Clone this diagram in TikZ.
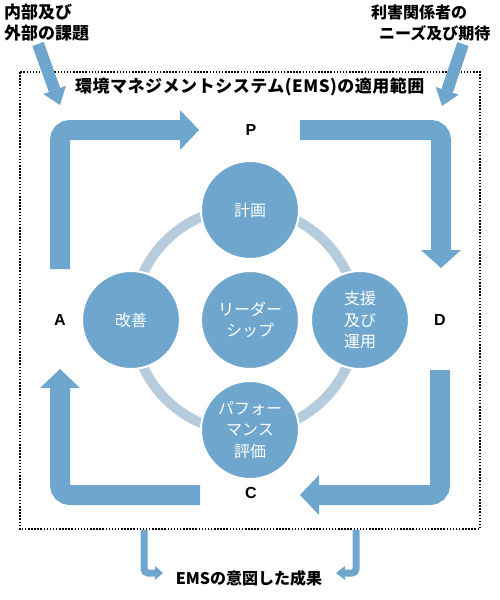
\documentclass[tikz,border=0pt]{standalone}
\usepackage{fontspec}
\setmainfont{Noto Sans CJK JP}
\newfontfamily\latf{Liberation Sans}
\usetikzlibrary{calc}
\definecolor{cb}{HTML}{6FA6CD}
\definecolor{ringc}{HTML}{B6CBDC}
\begin{document}
\begin{tikzpicture}[x=1pt,y=-1pt,
  bub/.style={circle, fill=cb, draw=white, line width=2pt, minimum size=98pt, inner sep=0pt,
     text=white, align=center, font=\fontsize{16}{21.5}\selectfont},
  cyc/.style={draw=cb, line width=20pt},
  head/.style={fill=cb},
  thin/.style={draw=cb, line width=7pt},
  lab/.style={font=\bfseries\fontsize{16}{21}\selectfont, inner sep=0pt},
  pdca/.style={font=\latf\bfseries\fontsize{16}{19}\selectfont, inner sep=0pt},
  box/.style={draw=black, line width=1.5pt, dash pattern=on 1.5pt off 1.6pt}
]
\useasboundingbox (0,0) rectangle (500,600);

% scope box
\draw[box] (20,72) rectangle (480,529);
\node[lab, anchor=west, font=\bfseries\fontsize{17}{21}\selectfont\addfontfeature{LetterSpace=3}] (title) at (75,87) {環境マネジメントシステム(EMS)の適用範囲};

% outside labels
\node[lab, anchor=north west, align=left, font=\bfseries\fontsize{17}{21}\selectfont] (inl) at (4,4) {内部及び\\外部の課題};
\node[lab, anchor=north west, align=left] (outl) at (371,5) {利害関係者の\\\hspace*{8pt}ニーズ及び期待};
\node[lab, anchor=center] (res) at (249,578) {EMSの意図した成果};

% ring and circles
\draw[ringc, line width=10pt] (245,320) circle[radius=112];
\node[bub] (plan) at (250,210) {計画};
\node[bub] (supp) at (360,320) {支援\\及び\\運用};
\node[bub] (eval) at (250,430) {パフォー\\マンス\\評価};
\node[bub] (impr) at (131,320) {改善};
\node[bub] (lead) at (250,320) {リーダー\\シップ};

% PDCA letters
\node[pdca] (P) at (251,130) {P};
\node[pdca] (D) at (440,320) {D};
\node[pdca] (C) at (251,493) {C};
\node[pdca] (A) at (60,320) {A};

% cycle arrows
\coordinate (tl1) at (60,269); \coordinate (tl2) at (60,130); \coordinate (tl3) at (181,130);
\draw[cyc] (tl1) [rounded corners=10pt] -- (tl2) -- (tl3);
\fill[head] (180,110) -- (199,130) -- (180,150) -- cycle;

\coordinate (tr1) at (300,130); \coordinate (tr2) at (441,130); \coordinate (tr3) at (441,251);
\draw[cyc] (tr1) [rounded corners=10pt] -- (tr2) -- (tr3);
\fill[head] (421,250) -- (441,268) -- (461,250) -- cycle;

\coordinate (br1) at (440,370); \coordinate (br2) at (440,495); \coordinate (br3) at (318,495);
\draw[cyc] (br1) [rounded corners=10pt] -- (br2) -- (br3);
\fill[head] (319,475) -- (300,495) -- (319,515) -- cycle;

\coordinate (bl1) at (200,495); \coordinate (bl2) at (60,495); \coordinate (bl3) at (60,387);
\draw[cyc] (bl1) [rounded corners=10pt] -- (bl2) -- (bl3);
\fill[head] (40,388) -- (60,369) -- (80,388) -- cycle;

% input arrows
\coordinate (s1) at (38,44); \coordinate (t1) at (60,105);
\coordinate (b1) at ($(t1)!16pt!(s1)$);
\draw[draw=cb, line width=12pt] (s1) -- (b1);
\fill[head] ($(b1)!12pt!90:(t1)$) -- (t1) -- ($(b1)!12pt!-90:(t1)$) -- cycle;

\coordinate (s2) at (463,44); \coordinate (t2) at (442,106);
\coordinate (b2) at ($(t2)!16pt!(s2)$);
\draw[draw=cb, line width=12pt] (s2) -- (b2);
\fill[head] ($(b2)!12pt!90:(t2)$) -- (t2) -- ($(b2)!12pt!-90:(t2)$) -- cycle;

% output arrows
\coordinate (o1) at (144,530); \coordinate (o2) at (144,573); \coordinate (o3) at (156,573);
\draw[thin] (o1) [rounded corners=4pt] -- (o2) -- (o3);
\fill[head] (155,566) -- (163,573) -- (155,580) -- cycle;

\coordinate (p1) at (356,530); \coordinate (p2) at (356,573); \coordinate (p3) at (344,573);
\draw[thin] (p1) [rounded corners=4pt] -- (p2) -- (p3);
\fill[head] (345,566) -- (336,573) -- (345,580) -- cycle;
\end{tikzpicture}
\end{document}
